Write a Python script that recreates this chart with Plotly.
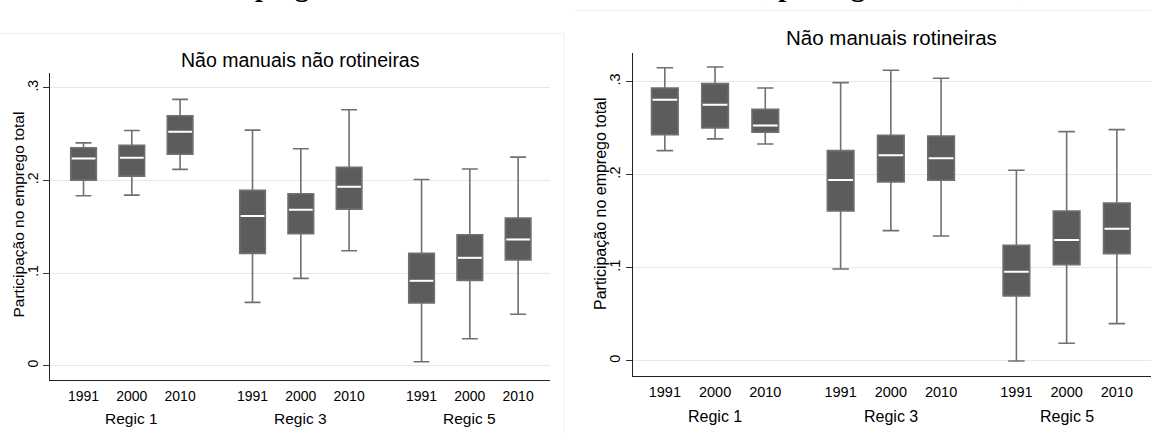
import plotly.graph_objects as go

W, H = 1151, 433

years = ["1991", "2000", "2010"]
groups = ["Regic 1", "Regic 3", "Regic 5"]

# Panel 1: Não manuais não rotineiras (lower adjacent, q1, median, q3, upper adjacent)
nr_low = [0.1835, 0.1842, 0.2120, 0.0684, 0.0943, 0.1241, 0.0043, 0.0291, 0.0555]
nr_q1 = [0.2004, 0.2047, 0.2284, 0.1213, 0.1424, 0.1691, 0.0677, 0.0921, 0.1141]
nr_med = [0.2238, 0.2245, 0.2525, 0.1615, 0.1683, 0.1932, 0.0917, 0.1165, 0.1364]
nr_q3 = [0.2353, 0.2380, 0.2698, 0.1893, 0.1856, 0.2141, 0.1213, 0.1414, 0.1594]
nr_high = [0.2406, 0.2540, 0.2875, 0.2543, 0.2342, 0.2763, 0.2011, 0.2123, 0.2252]

# Panel 2: Não manuais rotineiras
r_low = [0.2259, 0.2385, 0.2331, 0.0988, 0.1400, 0.1343, 0.0000, 0.0190, 0.0401]
r_q1 = [0.2431, 0.2503, 0.2456, 0.1611, 0.1923, 0.1941, 0.0698, 0.1035, 0.1153]
r_med = [0.2807, 0.2753, 0.2528, 0.1944, 0.2209, 0.2177, 0.0959, 0.1300, 0.1421]
r_q3 = [0.2932, 0.2979, 0.2703, 0.2259, 0.2424, 0.2417, 0.1243, 0.1611, 0.1697]
r_high = [0.3150, 0.3158, 0.2932, 0.2990, 0.3122, 0.3036, 0.2048, 0.2463, 0.2485]

y_ticks = [0, 0.1, 0.2, 0.3]
y_ticktext = ["0", ".1", ".2", ".3"]

titles = ["Não manuais não rotineiras", "Não manuais rotineiras"]
ytitle = "Participação no emprego total"
top_title = "Emprego não manual rotineiro e não rotineiro, por regic e ano 1991, 2000 e 2010"

# category positions: 3 years per group, gap between groups
GAP = 3.5
pos = [g * GAP + j for g in range(len(groups)) for j in range(len(years))]
group_pos = [g * GAP + (len(years) - 1) / 2 for g in range(len(groups))]
ticktext = [y for _ in groups for y in years]

BOXW = 0.53
FILL = "#5c5c5c"
WHISK = "#707070"
FONT = "Liberation Sans, Arial, sans-serif"


def px_x(p):
    return p / W


def px_y(p):
    return 1 - p / H


fig = go.Figure()

panels = [
    dict(low=nr_low, q1=nr_q1, med=nr_med, q3=nr_q3, high=nr_high, xa="x", ya="y"),
    dict(low=r_low, q1=r_q1, med=r_med, q3=r_q3, high=r_high, xa="x2", ya="y2"),
]

for pn in panels:
    fig.add_trace(go.Box(
        x=pos, q1=pn["q1"], median=pn["med"], q3=pn["q3"],
        lowerfence=pn["low"], upperfence=pn["high"],
        width=BOXW, whiskerwidth=0.62, fillcolor=FILL,
        line=dict(color=WHISK, width=1.6),
        boxpoints=False, showlegend=False, hoverinfo="skip",
        xaxis=pn["xa"], yaxis=pn["ya"],
    ))
    mx, my = [], []
    for p, m in zip(pos, pn["med"]):
        mx += [p - BOXW / 2 + 0.02, p + BOXW / 2 - 0.02, None]
        my += [m, m, None]
    fig.add_trace(go.Scatter(
        x=mx, y=my, mode="lines", line=dict(color="white", width=2),
        showlegend=False, hoverinfo="skip", xaxis=pn["xa"], yaxis=pn["ya"],
    ))

yax_common = dict(
    tickvals=y_ticks, ticktext=y_ticktext, tickangle=-90,
    ticks="outside", ticklen=6, tickcolor="#333333", tickwidth=1,
    showline=True, linecolor="#222222", linewidth=1,
    showgrid=True, gridcolor="#e8e8e8", gridwidth=1, zeroline=False,
)
xax_common = dict(
    tickvals=pos, ticktext=ticktext, ticks="", ticklabelstandoff=3,
    showline=True, linecolor="#222222", linewidth=1,
    showgrid=False, zeroline=False,
)

fig.update_layout(
    width=W, height=H,
    margin=dict(l=0, r=0, t=0, b=0),
    paper_bgcolor="white", plot_bgcolor="white",
    font=dict(family=FONT, color="#000000"),
    xaxis=dict(domain=[px_x(50.2), px_x(550)], range=[-0.69, 9.66],
               anchor="y", tickfont=dict(size=14), **xax_common),
    yaxis=dict(domain=[px_y(380), px_y(73)], range=[-0.0154, 0.316],
               anchor="x", tickfont=dict(size=14), **yax_common),
    xaxis2=dict(domain=[px_x(632.7), 1.0], range=[-0.64, 9.68],
                anchor="y2", tickfont=dict(size=14.5), **xax_common),
    yaxis2=dict(domain=[px_y(375.7), px_y(52.7)], range=[-0.0158, 0.3311],
                anchor="x2", tickfont=dict(size=14.5), **yax_common),
)

ann = []
# panel titles
ann.append(dict(text=titles[0], xref="paper", yref="paper", x=px_x(300.5), y=px_y(60),
                xanchor="center", yanchor="middle", showarrow=False,
                font=dict(size=19.5, family=FONT)))
ann.append(dict(text=titles[1], xref="paper", yref="paper", x=px_x(891), y=px_y(38),
                xanchor="center", yanchor="middle", showarrow=False,
                font=dict(size=20.5, family=FONT)))
# y axis titles
ann.append(dict(text=ytitle, xref="paper", yref="paper", x=px_x(17.5), y=px_y(215),
                xanchor="center", yanchor="middle", textangle=-90, showarrow=False,
                font=dict(size=15.5, family=FONT)))
ann.append(dict(text=ytitle, xref="paper", yref="paper", x=px_x(600), y=px_y(204),
                xanchor="center", yanchor="middle", textangle=-90, showarrow=False,
                font=dict(size=16, family=FONT)))
# group labels
for gp, gl in zip(group_pos, groups):
    ann.append(dict(text=gl, xref="x", yref="paper", x=gp, y=px_y(418),
                    xanchor="center", yanchor="middle", showarrow=False,
                    font=dict(size=15.5, family=FONT)))
    ann.append(dict(text=gl, xref="x2", yref="paper", x=gp, y=px_y(416),
                    xanchor="center", yanchor="middle", showarrow=False,
                    font=dict(size=16, family=FONT)))
# cropped document title at the very top (only its descenders remain visible)
ann.append(dict(text="<b>" + top_title + "</b>", xref="paper", yref="paper",
                x=px_x(211), y=px_y(4), xanchor="left", yanchor="bottom",
                showarrow=False,
                font=dict(size=28, family="Liberation Serif, Times New Roman, serif")))
fig.update_layout(annotations=ann)

# faint borders of the two graph images
fig.update_layout(shapes=[
    dict(type="line", xref="paper", yref="paper", x0=0, x1=px_x(564), y0=px_y(33.5), y1=px_y(33.5),
         line=dict(color="#efefef", width=1)),
    dict(type="line", xref="paper", yref="paper", x0=px_x(564), x1=px_x(564), y0=px_y(33.5), y1=0,
         line=dict(color="#efefef", width=1)),
    dict(type="line", xref="paper", yref="paper", x0=px_x(575), x1=1, y0=px_y(10.5), y1=px_y(10.5),
         line=dict(color="#efefef", width=1)),
])

fig.write_html("out.html")
